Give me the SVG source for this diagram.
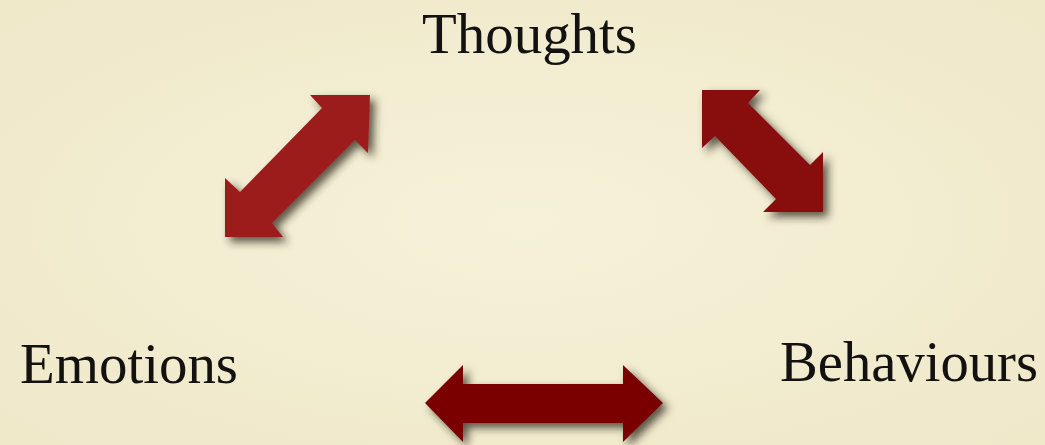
<svg xmlns="http://www.w3.org/2000/svg" width="1045" height="445" viewBox="0 0 1045 445">
<style>
.lbl{font-family:"Liberation Serif","Times New Roman",serif;font-size:56px;fill:#141210}
</style>
<defs>
<radialGradient id="bg" cx="50%" cy="50%" r="70%">
<stop offset="0" stop-color="#f6f1d9"/>
<stop offset="1" stop-color="#efe8c9"/>
</radialGradient>
<filter id="sh" x="-20%" y="-20%" width="150%" height="150%">
<feGaussianBlur in="SourceAlpha" stdDeviation="4"/>
<feOffset dx="5" dy="5" result="b"/>
<feFlood flood-color="#2a2418" flood-opacity="0.75"/>
<feComposite in2="b" operator="in"/>
<feMerge><feMergeNode/><feMergeNode in="SourceGraphic"/></feMerge>
</filter>
</defs>
<rect width="1045" height="445" fill="url(#bg)"/>
<g id="connectors" filter="url(#sh)">
<polygon id="arrow-thoughts-emotions" fill="#9c1c1f" points="370,95 368,153 355,140 272,223 283,237 225,237 225,178 240,192 322,108 310,95"/>
<polygon id="arrow-thoughts-behaviours" fill="#880b0f" points="702,90 760,90 748,103 810,165 823,152 823,212 763,212 776,199 715,136 702,148"/>
<polygon id="arrow-emotions-behaviours" fill="#7a0306" points="425,403 463,365 463,384 623,384 623,365 663,403 623,442 623,423 463,423 463,442"/>
</g>
<g id="node-thoughts"><text class="lbl" x="422" y="53" textLength="215" lengthAdjust="spacingAndGlyphs">Thoughts</text></g>
<g id="node-emotions"><text class="lbl" x="20" y="383" textLength="218" lengthAdjust="spacingAndGlyphs">Emotions</text></g>
<g id="node-behaviours"><text class="lbl" x="780" y="381" textLength="258" lengthAdjust="spacingAndGlyphs">Behaviours</text></g>
</svg>
